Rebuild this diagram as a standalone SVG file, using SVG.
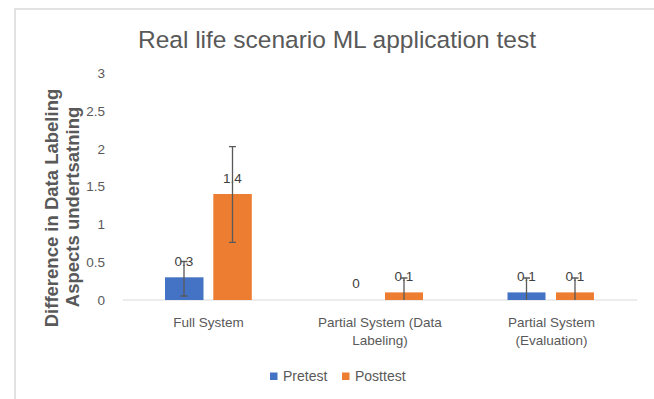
<svg xmlns="http://www.w3.org/2000/svg" width="654" height="399" viewBox="0 0 654 399">
<style>
text{font-family:"Liberation Sans",Arial,sans-serif;fill:#595959}
.tick{font-size:13.5px;text-anchor:end}
.lbl{font-size:13.5px;text-anchor:middle}
.dl{font-size:13.5px;text-anchor:middle;fill:#404040}
.ax{font-size:18.5px;font-weight:bold;text-anchor:middle}
.err{stroke:#595959;stroke-width:1.3;fill:none}
.blue{fill:#4472C4}
.orange{fill:#ED7D31}
</style>
<rect x="0" y="0" width="654" height="399" fill="#ffffff"/>
<path d="M15 420 V9 H670" fill="none" stroke="#d9d9d9" stroke-width="1.5"/>
<text x="337" y="48" style="font-size:24.5px;text-anchor:middle">Real life scenario ML application test</text>
<g id="yaxis">
<text class="tick" x="105" y="78">3</text>
<text class="tick" x="105" y="116">2.5</text>
<text class="tick" x="105" y="154">2</text>
<text class="tick" x="105" y="191">1.5</text>
<text class="tick" x="105" y="229">1</text>
<text class="tick" x="105" y="267">0.5</text>
<text class="tick" x="105" y="305">0</text>
<text class="ax" transform="translate(58,208) rotate(-90)">Difference in Data Labeling</text>
<text class="ax" transform="translate(79,207) rotate(-90)">Aspects undertsatning</text>
</g>
<line x1="123" y1="300" x2="637" y2="300" stroke="#d9d9d9" stroke-width="1"/>
<g id="full-system">
<rect class="blue" x="165" y="277.3" width="38.5" height="22.7"/>
<rect class="orange" x="213.3" y="194" width="38.5" height="106"/>
<text class="dl" x="184" y="266">0.3</text>
<text class="dl" x="232.5" y="183">1.4</text>
<text class="lbl" x="208.5" y="327">Full System</text>
</g>
<g id="partial-labeling">
<rect class="orange" x="385" y="292.4" width="38" height="7.6"/>
<text class="dl" x="356" y="288">0</text>
<text class="dl" x="404" y="281">0.1</text>
<text class="lbl" x="380" y="327">Partial System (Data</text>
<text class="lbl" x="380" y="345">Labeling)</text>
</g>
<g id="partial-evaluation">
<rect class="blue" x="507.5" y="292.4" width="38" height="7.6"/>
<rect class="orange" x="556" y="292.4" width="38" height="7.6"/>
<text class="dl" x="526.5" y="281">0.1</text>
<text class="dl" x="575" y="281">0.1</text>
<text class="lbl" x="551.5" y="327">Partial System</text>
<text class="lbl" x="551.5" y="345">(Evaluation)</text>
</g>
<g id="connectors">
<path class="err" d="M184 261.5 V296 M180.5 261.5 H187.5 M180.5 296 H187.5"/>
<path class="err" d="M232.5 146.7 V242.3 M229 146.7 H236 M229 242.3 H236"/>
<path class="err" d="M404 278 V300 M400.5 278 H407.5"/>
<path class="err" d="M526.5 278 V300 M523 278 H530"/>
<path class="err" d="M575 278 V300 M571.5 278 H578.5"/>
</g>
<g id="legend">
<rect class="blue" x="270" y="372.5" width="7.5" height="7.5"/>
<text x="283" y="381" style="font-size:14px">Pretest</text>
<rect class="orange" x="342" y="372.5" width="7.5" height="7.5"/>
<text x="355" y="381" style="font-size:14px">Posttest</text>
</g>
</svg>
